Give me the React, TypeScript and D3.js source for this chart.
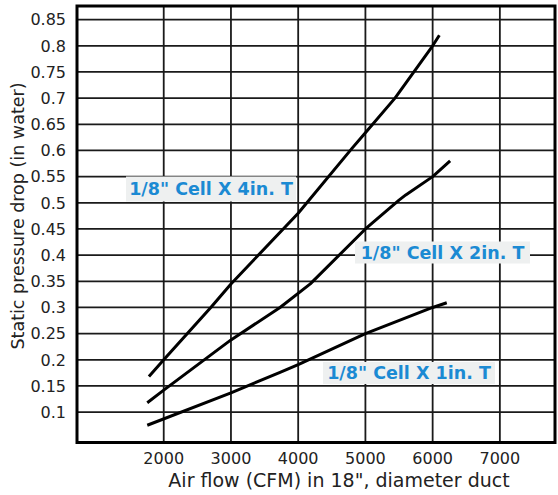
import React from "react";
import * as d3 from "d3";

const W = 558;
const H = 495;

const xTicks = [2000, 3000, 4000, 5000, 6000, 7000];
const yTicks = [0.1, 0.15, 0.2, 0.25, 0.3, 0.35, 0.4, 0.45, 0.5, 0.55, 0.6, 0.65, 0.7, 0.75, 0.8, 0.85];

const cell4X = [1780, 2000, 2700, 3000, 4000, 4800, 5000, 5440, 6000, 6100];
const cell4Y = [0.168, 0.2, 0.3, 0.345, 0.48, 0.604, 0.634, 0.7, 0.8, 0.82];

const cell2X = [1755, 2000, 3000, 3730, 4180, 5000, 5500, 5600, 6000, 6260];
const cell2Y = [0.118, 0.142, 0.238, 0.3, 0.345, 0.45, 0.505, 0.515, 0.55, 0.58];

const cell1X = [1755, 3000, 3730, 4000, 5000, 6000, 6210];
const cell1Y = [0.075, 0.137, 0.176, 0.191, 0.25, 0.3, 0.309];

const seriesNames = ['1/8" Cell X 4in. T', '1/8" Cell X 2in. T', '1/8" Cell X 1in. T'];

const xTitle = 'Air flow (CFM) in 18", diameter duct';
const yTitle = "Static pressure drop (in water)";

const plot = { left: 77, right: 555, top: 6, bottom: 442.5 };

const x = d3.scaleLinear().domain([710, 7820]).range([plot.left, plot.right]);
const y = d3.scaleLinear().domain([0.042, 0.876]).range([plot.bottom, plot.top]);

const line = d3
  .line<[number, number]>()
  .x((d) => x(d[0]))
  .y((d) => y(d[1]));

const zip = (xs: number[], ys: number[]) => xs.map((v, i) => [v, ys[i]] as [number, number]);

const series = [zip(cell4X, cell4Y), zip(cell2X, cell2Y), zip(cell1X, cell1Y)];

const labels = [
  { cx: 211, cy: 189, w: 170, h: 25 },
  { cx: 442.5, cy: 252.5, w: 175, h: 22 },
  { cx: 409, cy: 373, w: 172, h: 22 },
];

const font = "'DejaVu Sans', Verdana, sans-serif";

export default function App() {
  return (
    <svg
      width={W}
      height={H}
      style={{ position: "absolute", left: 0, top: 0, background: "#fff" }}
      fontFamily={font}
    >
      <rect x={0} y={0} width={W} height={H} fill="#fff" />
      {/* grid */}
      {yTicks.map((t) => (
        <line key={"gy" + t} x1={plot.left} x2={plot.right} y1={y(t)} y2={y(t)} stroke="#1a1a1a" strokeWidth={1.8} />
      ))}
      {xTicks.map((t) => (
        <line key={"gx" + t} x1={x(t)} x2={x(t)} y1={plot.top} y2={plot.bottom} stroke="#1a1a1a" strokeWidth={1.8} />
      ))}
      {/* frame */}
      <rect
        x={plot.left}
        y={plot.top}
        width={plot.right - plot.left}
        height={plot.bottom - plot.top}
        fill="none"
        stroke="#000"
        strokeWidth={3}
      />
      {/* tick labels */}
      {yTicks.map((t) => (
        <text key={"ty" + t} x={66} y={y(t)} dy="0.36em" textAnchor="end" fontSize={16} fill="#222">
          {String(t)}
        </text>
      ))}
      {xTicks.map((t) => (
        <text key={"tx" + t} x={x(t)} y={464} textAnchor="middle" fontSize={16} fill="#222">
          {String(t)}
        </text>
      ))}
      {/* data lines */}
      {series.map((s, i) => (
        <path key={"s" + i} d={line(s) || ""} fill="none" stroke="#000" strokeWidth={3} strokeLinejoin="round" strokeLinecap="butt" />
      ))}
      {/* labels */}
      {labels.map((l, i) => (
        <g key={"l" + i}>
          <rect x={l.cx - l.w / 2} y={l.cy - l.h / 2} width={l.w} height={l.h} fill="#eef0f0" />
          <text x={l.cx} y={l.cy} dy="0.36em" textAnchor="middle" fontSize={17.5} fontWeight="bold" fill="#1b8ad3">
            {seriesNames[i]}
          </text>
        </g>
      ))}
      {/* titles */}
      <text x={339} y={487} textAnchor="middle" fontSize={19} fill="#222">
        {xTitle}
      </text>
      <text
        transform={`translate(24, 216) rotate(-90)`}
        textAnchor="middle"
        fontSize={17.5}
        fill="#222"
      >
        {yTitle}
      </text>
    </svg>
  );
}
